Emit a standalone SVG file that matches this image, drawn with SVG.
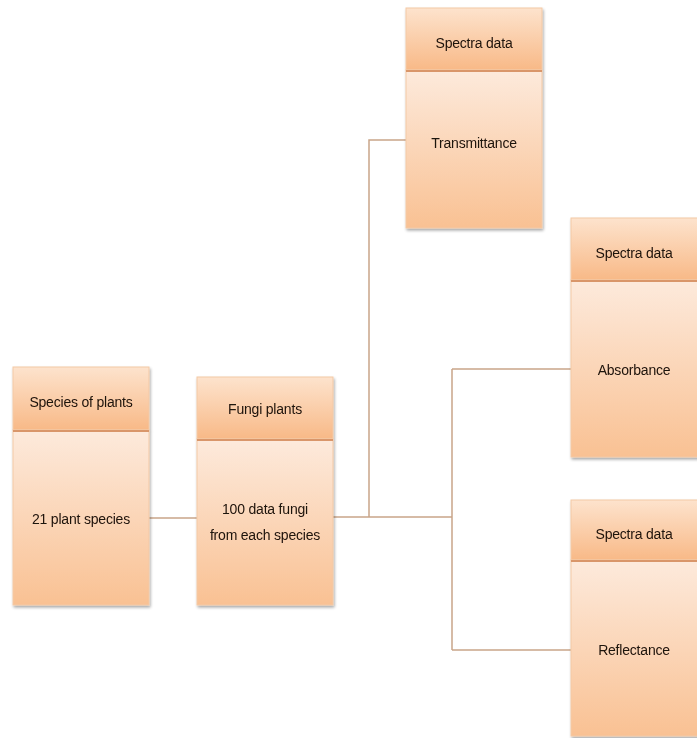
<svg xmlns="http://www.w3.org/2000/svg" width="697" height="738" viewBox="0 0 697 738">
<defs>
<linearGradient id="hdr" x1="0" y1="0" x2="0" y2="1">
<stop offset="0" stop-color="#fde3cd"/>
<stop offset="1" stop-color="#f8b987"/>
</linearGradient>
<linearGradient id="bdy" x1="0" y1="0" x2="0" y2="1">
<stop offset="0" stop-color="#fdeadc"/>
<stop offset="1" stop-color="#f9c193"/>
</linearGradient>
<filter id="sh" x="-10%" y="-10%" width="130%" height="130%">
<feGaussianBlur in="SourceAlpha" stdDeviation="1.5"/>
<feOffset dx="1" dy="2" result="o"/>
<feComponentTransfer><feFuncA type="linear" slope="0.35"/></feComponentTransfer>
<feMerge><feMergeNode/><feMergeNode in="SourceGraphic"/></feMerge>
</filter>
</defs>
<style>
.hdr{fill:url(#hdr);stroke:#f3c9a6;stroke-width:1}
.bdy{fill:url(#bdy);stroke:#f3c9a6;stroke-width:1}
.div{stroke:#d9966a;stroke-width:2}
.t{font-family:"Liberation Sans",Arial,sans-serif;font-size:14px;fill:#1e120a;text-anchor:middle;letter-spacing:-0.2px}
.c{fill:none;stroke:#c9a589;stroke-width:1.5}
</style>
<g id="connectors">
<path class="c" d="M149,518 H197"/>
<path class="c" d="M333,517 H452"/>
<path class="c" d="M369,517 V140 H406"/>
<path class="c" d="M452,369 V650"/>
<path class="c" d="M452,369 H571"/>
<path class="c" d="M452,650 H571"/>
</g>
<g id="species" filter="url(#sh)">
<rect class="hdr" x="13" y="367" width="136" height="63"/>
<rect class="bdy" x="13" y="430" width="136" height="175"/>
<line class="div" x1="13" y1="431" x2="149" y2="431"/>
<text class="t" x="81" y="407">Species of plants</text>
<text class="t" x="81" y="524">21 plant species</text>
</g>
<g id="fungi" filter="url(#sh)">
<rect class="hdr" x="197" y="377" width="136" height="62"/>
<rect class="bdy" x="197" y="439" width="136" height="166"/>
<line class="div" x1="197" y1="440" x2="333" y2="440"/>
<text class="t" x="265" y="414">Fungi plants</text>
<text class="t" x="265" y="514">100 data fungi</text>
<text class="t" x="265" y="540">from each species</text>
</g>
<g id="transmittance" filter="url(#sh)">
<rect class="hdr" x="406" y="8" width="136" height="62"/>
<rect class="bdy" x="406" y="70" width="136" height="158"/>
<line class="div" x1="406" y1="71" x2="542" y2="71"/>
<text class="t" x="474" y="48">Spectra data</text>
<text class="t" x="474" y="148">Transmittance</text>
</g>
<g id="absorbance" filter="url(#sh)">
<rect class="hdr" x="571" y="218" width="130" height="62"/>
<rect class="bdy" x="571" y="280" width="130" height="177"/>
<line class="div" x1="571" y1="281" x2="701" y2="281"/>
<text class="t" x="634" y="258">Spectra data</text>
<text class="t" x="634" y="375">Absorbance</text>
</g>
<g id="reflectance" filter="url(#sh)">
<rect class="hdr" x="571" y="500" width="130" height="60"/>
<rect class="bdy" x="571" y="560" width="130" height="176"/>
<line class="div" x1="571" y1="561" x2="701" y2="561"/>
<text class="t" x="634" y="539">Spectra data</text>
<text class="t" x="634" y="655">Reflectance</text>
</g>
</svg>
